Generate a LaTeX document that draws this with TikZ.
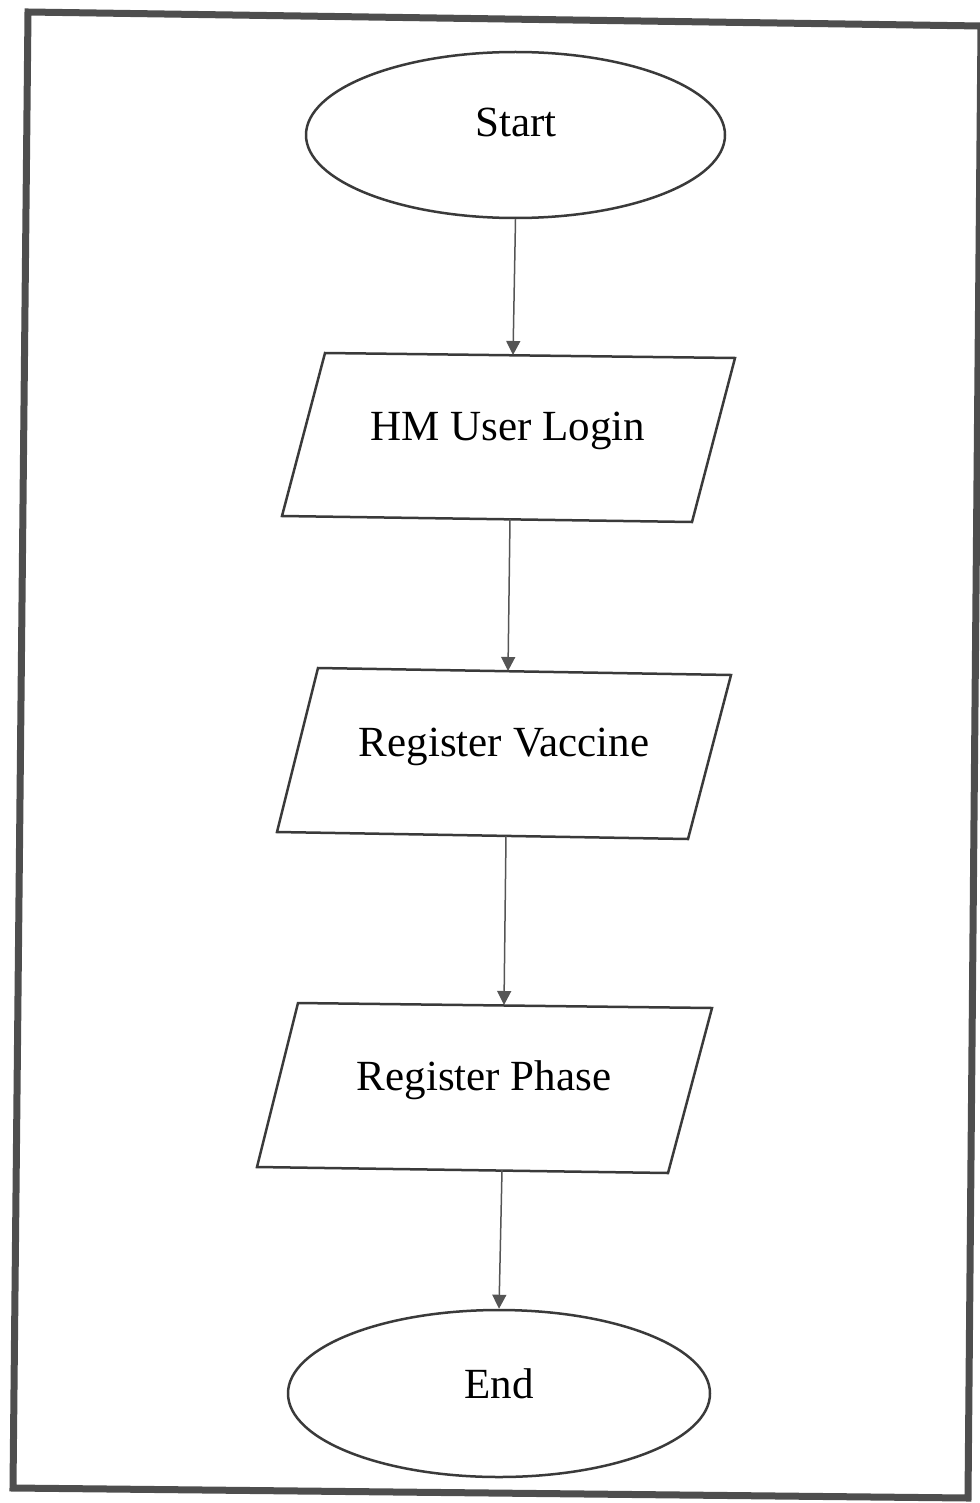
\documentclass[tikz,border=0pt]{standalone}
\usepackage{fontspec}
\setmainfont{Liberation Serif}
\usetikzlibrary{shapes.geometric,arrows.meta}
\definecolor{framecol}{HTML}{4E4E4E}
\definecolor{inkcol}{HTML}{3A3A3A}
\definecolor{arrcol}{HTML}{555555}
\tikzset{
  outline/.style={draw=inkcol, line width=1.25pt, line join=miter},
  term/.style={ellipse, draw=inkcol, line width=1.25pt, inner sep=0pt},
  lbl/.style={anchor=base, inner sep=0pt, text=black, font=\fontsize{21.5}{24}\selectfont},
  flow/.style={draw=arrcol, line width=0.75pt, -{Triangle[length=7pt,width=7pt]}},
}
\begin{document}
\begin{tikzpicture}[x=0.5pt,y=-0.5pt]
\useasboundingbox (0,0) rectangle (979,1503);
% frame
\draw[draw=framecol, line width=3.5pt, line join=miter]
  (28,12) -- (981,26) -- (968,1498) -- (13,1488) -- cycle;
% start / end
\node[term, minimum width=209.5pt, minimum height=83pt] (start) at (515.5,135) {};
\node[lbl] (starttxt) at (516,137) {Start};
\node[term, minimum width=211pt, minimum height=83.5pt] (end) at (499,1393.5) {};
\node[lbl] (endtxt) at (499,1398) {End};
% parallelograms
\coordinate (p1tl) at (325,353); \coordinate (p1tr) at (735,358);
\coordinate (p1br) at (692,522); \coordinate (p1bl) at (282,516);
\draw[outline] (p1tl) -- (p1tr) -- (p1br) -- (p1bl) -- cycle;
\node[lbl] (login) at (508,440) {HM User Login};
\coordinate (p2tl) at (318,668); \coordinate (p2tr) at (731,675);
\coordinate (p2br) at (688,839); \coordinate (p2bl) at (277,832);
\draw[outline] (p2tl) -- (p2tr) -- (p2br) -- (p2bl) -- cycle;
\node[lbl] (vaccine) at (504,756) {Register Vaccine};
\coordinate (p3tl) at (298,1003); \coordinate (p3tr) at (712,1008);
\coordinate (p3br) at (668,1173); \coordinate (p3bl) at (257,1167);
\draw[outline] (p3tl) -- (p3tr) -- (p3br) -- (p3bl) -- cycle;
\node[lbl] (phase) at (484,1090) {Register Phase};
% connector endpoints
\coordinate (p1top) at (513,355); \coordinate (p1bot) at (510,519);
\coordinate (p2top) at (508,671); \coordinate (p2bot) at (506,836);
\coordinate (p3top) at (504,1005); \coordinate (p3bot) at (502,1170);
\draw[flow] (start.south) -- (p1top);
\draw[flow] (p1bot) -- (p2top);
\draw[flow] (p2bot) -- (p3top);
\draw[flow] (p3bot) -- (end.north);
\end{tikzpicture}
\end{document}
